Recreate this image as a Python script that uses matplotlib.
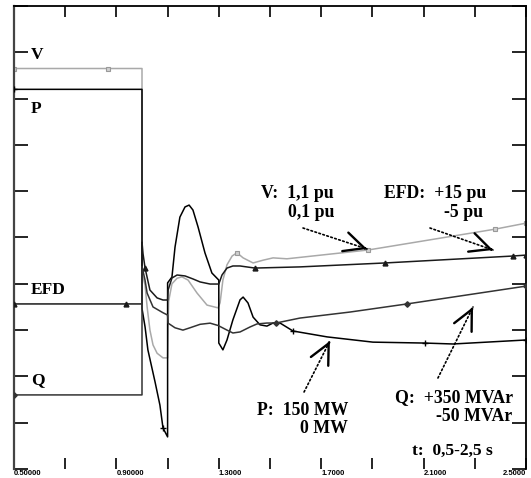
import matplotlib
matplotlib.use("Agg")
import matplotlib.pyplot as plt
import numpy as np

# ---- recorded traces (time in s, physical units) ----
t_V = [0.5, 0.867, 1.0, 1.0, 1.012, 1.020, 1.031, 1.043, 1.059, 1.082, 1.1, 1.104,
       1.117, 1.137, 1.156, 1.180, 1.215, 1.254, 1.297, 1.305, 1.316, 1.332, 1.352,
       1.371, 1.395, 1.434, 1.473, 1.512, 1.566, 1.883, 2.379, 2.5]
V = [0.965, 0.965, 0.965, 0.525, 0.497, 0.450, 0.400, 0.368, 0.350, 0.340, 0.340, 0.462,
     0.500, 0.512, 0.515, 0.508, 0.480, 0.454, 0.448, 0.459, 0.508, 0.541, 0.560,
     0.567, 0.556, 0.545, 0.551, 0.556, 0.554, 0.573, 0.618, 0.631]
V_marks = [0, 1, 23, 29, 30, 31]

t_P = [0.5, 1.0, 1.0, 1.012, 1.023, 1.051, 1.070, 1.082, 1.1, 1.1, 1.117, 1.129, 1.148,
       1.168, 1.184, 1.199, 1.219, 1.246, 1.273, 1.3, 1.3, 1.316, 1.332, 1.355, 1.383,
       1.395, 1.414, 1.434, 1.461, 1.488, 1.512, 1.539, 1.590, 1.723, 1.902, 2.105,
       2.215, 2.5]
P = [123, 123, 52, 46, 38.6, 28.2, 20.7, 13.3, 10.4, 60.3, 62.2, 71.9, 81.6,
     84.9, 85.5, 83.9, 78.4, 70.0, 63.5, 61.2, 40.8, 38.6, 41.8, 48.3, 54.8,
     55.7, 53.8, 49.2, 46.7, 46.3, 47.3, 47.3, 44.7, 42.8, 41.1, 40.8,
     40.5, 41.8]
P_marks = [0, 7, 32, 35, 37]

t_EFD = [0.5, 0.9375, 1.0, 1.0, 1.004, 1.012, 1.031, 1.059, 1.082, 1.1, 1.102, 1.117,
         1.137, 1.168, 1.199, 1.227, 1.266, 1.3, 1.3125, 1.332, 1.355, 1.383, 1.441,
         1.617, 1.949, 2.449, 2.5]
EFD = [2.13, 2.13, 2.13, 4.80, 4.30, 3.68, 2.73, 2.39, 2.30, 2.30, 2.73, 3.25,
       3.38, 3.34, 3.21, 3.08, 2.99, 2.99, 3.38, 3.68, 3.77, 3.77, 3.68,
       3.73, 3.90, 4.20, 4.24]
EFD_marks = [0, 1, 5, 22, 24, 25, 26]

t_Q = [0.5, 1.0, 1.0, 1.012, 1.020, 1.043, 1.082, 1.1, 1.102, 1.129, 1.160, 1.1875,
       1.227, 1.266, 1.297, 1.332, 1.355, 1.383, 1.422, 1.449, 1.488, 1.523, 1.617,
       1.8125, 2.035, 2.5]
Q = [14, 14, 125, 113, 102, 90, 85, 83, 76, 72, 70, 72,
     75, 76, 74, 70, 67.5, 68.4, 72.7, 75.3, 76.1, 76.1, 80.4,
     85.6, 92.6, 108]
Q_marks = [0, 21, 24, 25]

# full-scale ranges of each channel (bottom, top of the 10-division grid)
V_range = (0.1, 1.1)
P_range = (0.0, 150.0)
EFD_range = (-5.0, 15.0)
Q_range = (-50.0, 350.0)

x_ticks = [0.5, 0.7, 0.9, 1.1, 1.3, 1.5, 1.7, 1.9, 2.1, 2.3, 2.5]
x_ticklabels = ["0.50000", "", "0.90000", "", "1.3000", "", "1.7000", "",
                "2.1000", "", "2.5000"]

W, H = 531, 478
fig = plt.figure(figsize=(W / 100, H / 100), dpi=100)
ax = fig.add_axes([14 / W, (H - 469) / H, (526 - 14) / W, (469 - 6) / H])
ax.set_xlim(0.5, 2.5)
ax.set_ylim(0, 10)


def to_div(vals, rng):
    lo, hi = rng
    return (np.asarray(vals, float) - lo) / (hi - lo) * 10.0


ax.plot(t_V, to_div(V, V_range), color="#a9a9a9", lw=1.1, marker="s", ms=3,
        mfc="#d0d0d0", mec="#999999", mew=0.8, markevery=V_marks, zorder=2)
ax.plot(t_P, to_div(P, P_range), color="black", lw=1.1, marker="+", ms=5,
        mew=1.0, markevery=P_marks, zorder=3)
ax.plot(t_EFD, to_div(EFD, EFD_range), color="#1a1a1a", lw=1.1, marker="^", ms=3.5,
        markevery=EFD_marks, zorder=3)
ax.plot(t_Q, to_div(Q, Q_range), color="#333333", lw=1.1, marker="D", ms=2.8,
        markevery=Q_marks, zorder=3)

# axes frame and ticks
ax.set_xticks(x_ticks)
ax.set_xticklabels(x_ticklabels, fontsize=5.5, fontweight="bold",
                   family="Liberation Sans")
ax.set_yticks(range(0, 11))
ax.set_yticklabels([])
ax.tick_params(axis="x", direction="in", top=True, bottom=True, length=8,
               width=1.2, pad=1.0)
ax.tick_params(axis="y", direction="in", left=True, right=True, length=10,
               width=1.2)
xlabels = ax.get_xticklabels()
for lab in xlabels:
    lab.set_horizontalalignment("left")
xlabels[-1].set_horizontalalignment("right")
ax.spines["bottom"].set_visible(False)
ax.spines["left"].set_color("#444444")
ax.spines["left"].set_linewidth(1.6)
ax.spines["top"].set_linewidth(1.3)
ax.spines["right"].set_linewidth(1.3)

serif = dict(family="Liberation Serif", fontweight="bold", color="black")


def ftext(x, y, s, size, ha="left"):
    fig.text(x / W, 1 - y / H, s, fontsize=size, ha=ha, va="baseline", **serif)


# channel names along the left axis
ftext(31, 59, "V", 12.5)
ftext(31, 113, "P", 12.5)
ftext(31, 294, "EFD", 12.5)
ftext(31, 384, "Q", 12.5)

# scale notes
ftext(334, 198, "V:  1,1 pu", 12.8, ha="right")
ftext(334, 217, "0,1 pu", 12.8, ha="right")
ftext(486, 198, "EFD:  +15 pu", 12.8, ha="right")
ftext(483, 217, "-5 pu", 12.8, ha="right")
ftext(348, 415, "P:  150 MW", 12.8, ha="right")
ftext(348, 433, "0 MW", 12.8, ha="right")
ftext(513, 402, "Q:  +350 MVAr", 12.8, ha="right")
ftext(512, 421, "-50 MVAr", 12.8, ha="right")
ftext(412, 455, "t:  0,5-2,5 s", 12.6)


def pointer(tail, tip):
    tail = np.asarray(tail, float)
    tip = np.asarray(tip, float)
    ax.annotate("", xy=tip, xytext=tail,
                arrowprops=dict(arrowstyle="-", lw=1.2, ls=(0, (1, 1.5)),
                                color="black", shrinkA=0, shrinkB=0))
    start = tip - 0.03 * (tip - tail)
    ax.annotate("", xy=tip, xytext=start,
                arrowprops=dict(arrowstyle="->,head_length=1.45,head_width=0.7",
                                lw=1.7, color="black", shrinkA=0, shrinkB=0,
                                mutation_scale=10))


pointer((1.629, 5.205), (1.879, 4.752))   # V
pointer((2.125, 5.205), (2.371, 4.73))    # EFD
pointer((1.633, 1.663), (1.734, 2.765))   # P
pointer((2.156, 1.965), (2.293, 3.499))   # Q

fig.savefig("out.png", dpi=100, facecolor="white")
